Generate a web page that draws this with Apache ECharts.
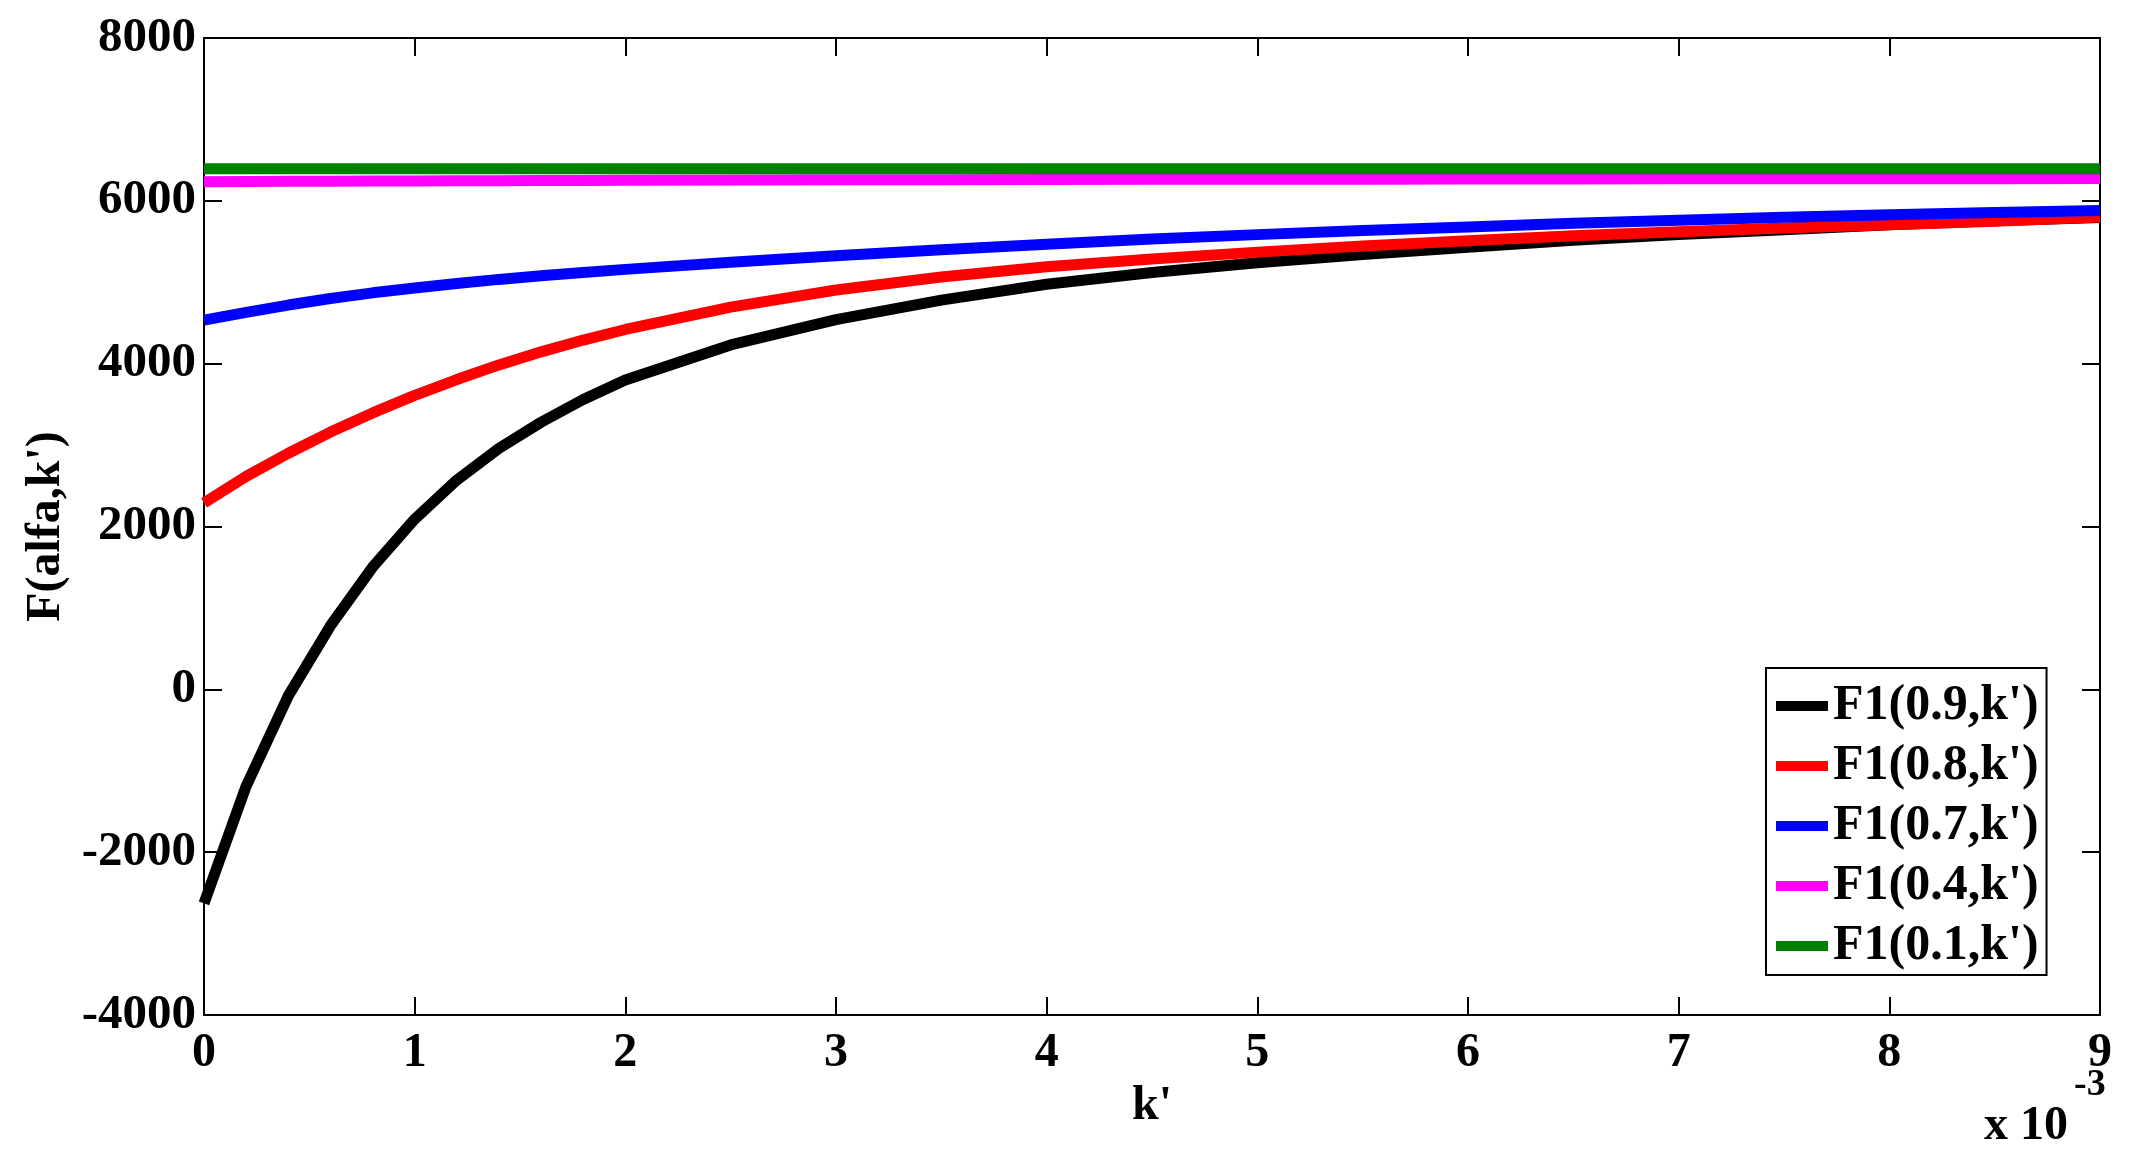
<!DOCTYPE html>
<html>
<head>
<meta charset="utf-8">
<title>F(alfa,k')</title>
<script src="https://cdn.jsdelivr.net/npm/echarts@6/dist/echarts.min.js"></script>
<style>
  html, body { margin: 0; padding: 0; background: #fff; }
  #chart { width: 2133px; height: 1172px; }
</style>
</head>
<body>
<div id="chart"></div>
<script>
// k' in units of 1e-3
const kValues = [0, 0.2, 0.4, 0.6, 0.8, 1.0, 1.2, 1.4, 1.6, 1.8, 2.0, 2.5, 3, 3.5, 4, 4.5, 5, 5.5, 6, 6.5, 7, 7.5, 8, 8.5, 9];

const f09 = [-2630, -1190, -80, 780, 1500, 2090, 2570, 2960, 3280, 3560, 3800, 4230, 4540, 4780, 4975, 5120, 5240, 5340, 5430, 5515, 5585, 5645, 5705, 5755, 5795];
const f08 = [2290, 2615, 2900, 3160, 3395, 3610, 3805, 3985, 4145, 4290, 4420, 4695, 4905, 5065, 5190, 5285, 5370, 5445, 5510, 5570, 5620, 5665, 5705, 5750, 5800];
const f07 = [4535, 4630, 4720, 4800, 4870, 4930, 4985, 5035, 5080, 5120, 5158, 5245, 5325, 5400, 5468, 5530, 5585, 5635, 5680, 5725, 5762, 5798, 5830, 5858, 5882];
const f04 = [6235, 6237, 6239, 6241, 6243, 6245, 6246, 6247, 6249, 6250, 6252, 6255, 6258, 6260, 6262, 6264, 6265, 6266, 6268, 6269, 6270, 6271, 6272, 6272, 6273];
const f01 = [6395, 6395, 6395, 6395, 6395, 6395, 6395, 6395, 6395, 6395, 6395, 6395, 6395, 6395, 6395, 6395, 6395, 6395, 6395, 6395, 6395, 6395, 6395, 6395, 6395];

const seriesNames = ["F1(0.9,k')", "F1(0.8,k')", "F1(0.7,k')", "F1(0.4,k')", "F1(0.1,k')"];
const seriesColors = ['#000000', '#ff0000', '#0000ff', '#ff00ff', '#008000'];
const seriesValues = [f09, f08, f07, f04, f01];

const xTicks = [0, 9, 1];        // min, max, interval
const yTicks = [-4000, 8000, 2000];

const FONT = "'Liberation Serif', 'Times New Roman', serif";

const chart = echarts.init(document.getElementById('chart'), null, { renderer: 'canvas' });

const tickStyle = { show: true, inside: true, length: 18, lineStyle: { color: '#000', width: 2 } };
const lineStyleAxis = { show: true, onZero: false, lineStyle: { color: '#000', width: 2 } };

const option = {
  backgroundColor: '#ffffff',
  animation: false,
  grid: { left: 204, top: 38, right: 33, bottom: 157, containLabel: false },
  xAxis: [
    {
      type: 'value',
      min: xTicks[0], max: xTicks[1], interval: xTicks[2],
      position: 'bottom',
      axisLine: lineStyleAxis,
      axisTick: tickStyle,
      splitLine: { show: false },
      axisLabel: {
        margin: 15,
        color: '#000', fontSize: 48, fontWeight: 'bold', fontFamily: FONT
      },
      name: "k'",
      nameLocation: 'middle',
      nameGap: 64,
      nameTextStyle: { color: '#000', fontSize: 48, fontWeight: 'bold', fontFamily: FONT }
    },
    {
      type: 'value',
      min: xTicks[0], max: xTicks[1], interval: xTicks[2],
      position: 'top',
      axisLine: lineStyleAxis,
      axisTick: tickStyle,
      splitLine: { show: false },
      axisLabel: { show: false }
    }
  ],
  yAxis: [
    {
      type: 'value',
      min: yTicks[0], max: yTicks[1], interval: yTicks[2],
      position: 'left',
      axisLine: lineStyleAxis,
      axisTick: tickStyle,
      splitLine: { show: false },
      axisLabel: {
        margin: 8,
        formatter: v => String(v),
        color: '#000', fontSize: 49, fontWeight: 'bold', fontFamily: FONT
      },
      name: "F(alfa,k')",
      nameLocation: 'middle',
      nameRotate: 90,
      nameGap: 132,
      nameTextStyle: { color: '#000', fontSize: 48, fontWeight: 'bold', fontFamily: FONT }
    },
    {
      type: 'value',
      min: yTicks[0], max: yTicks[1], interval: yTicks[2],
      position: 'right',
      axisLine: lineStyleAxis,
      axisTick: tickStyle,
      splitLine: { show: false },
      axisLabel: { show: false }
    }
  ],
  legend: {
    orient: 'vertical',
    left: 1766,
    top: 668,
    padding: [13, 8, 4, 10],
    itemWidth: 52,
    itemHeight: 10,
    itemGap: 10,
    icon: 'rect',
    selectedMode: false,
    borderColor: '#000',
    borderWidth: 2,
    backgroundColor: '#fff',
    textStyle: { color: '#000', fontSize: 50, fontWeight: 'bold', fontFamily: FONT, lineHeight: 50 },
    data: seriesNames
  },
  graphic: [
    {
      type: 'text', left: 1984, top: 1103, silent: true,
      style: { text: 'x 10', fill: '#000', fontSize: 48, fontWeight: 'bold', fontFamily: FONT }
    },
    {
      type: 'text', left: 2074, top: 1066, silent: true,
      style: { text: '-3', fill: '#000', fontSize: 38, fontWeight: 'bold', fontFamily: FONT }
    }
  ],
  series: seriesNames.map((name, i) => ({
    name: name,
    type: 'line',
    xAxisIndex: 0,
    yAxisIndex: 0,
    showSymbol: false,
    symbol: 'none',
    smooth: false,
    color: seriesColors[i],
    lineStyle: { color: seriesColors[i], width: 11 },
    data: kValues.map((k, j) => [k, seriesValues[i][j]])
  }))
};

chart.setOption(option);
</script>
</body>
</html>
